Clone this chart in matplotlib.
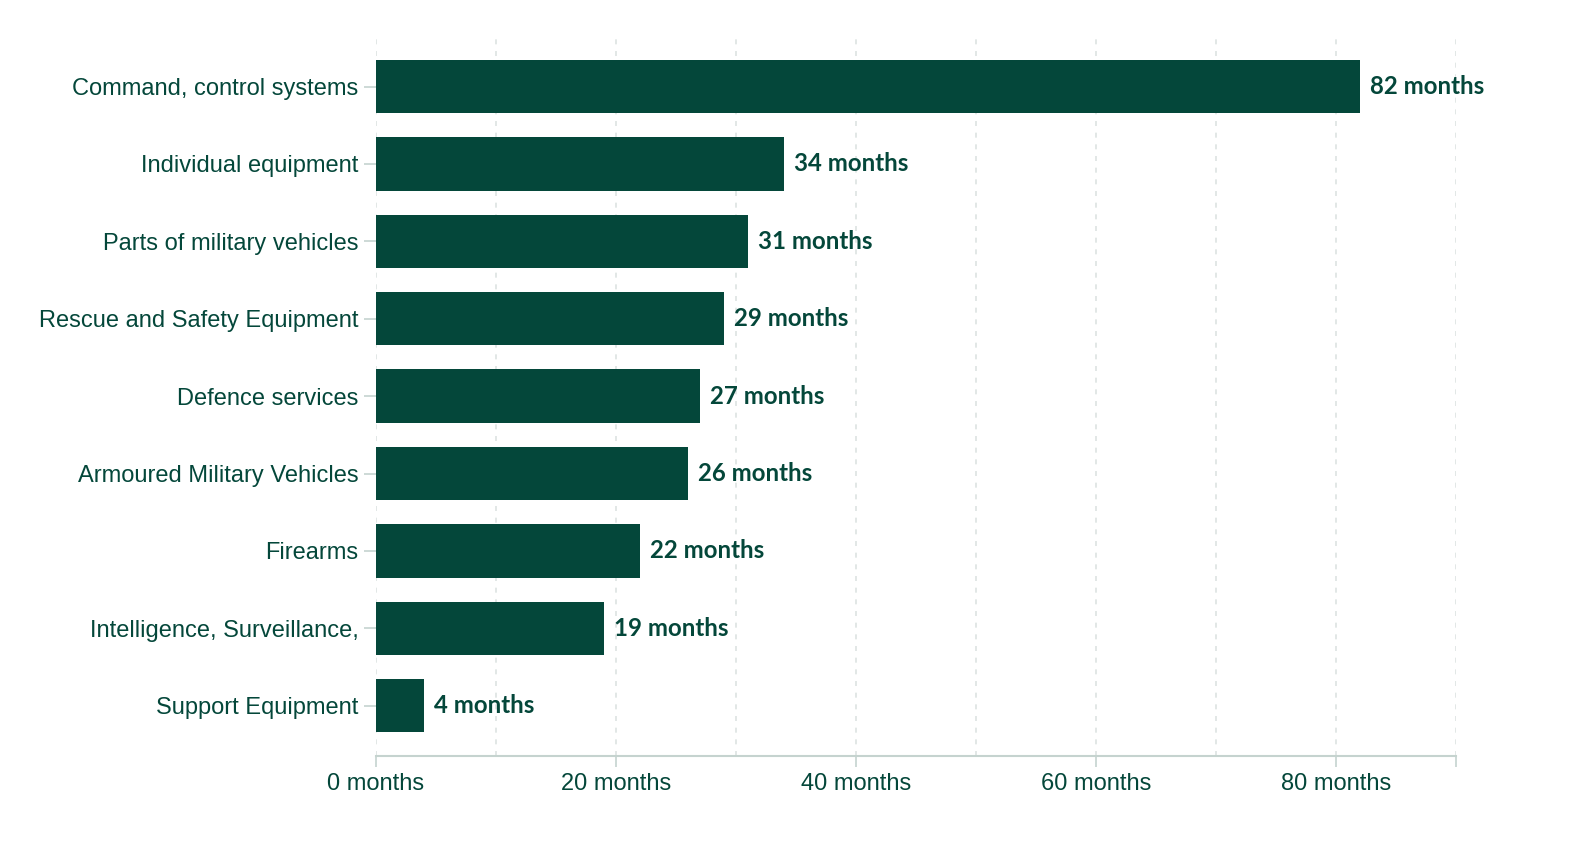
import matplotlib.pyplot as plt

# data
categories = ['Command, control systems', 'Individual equipment', 'Parts of military vehicles',
              'Rescue and Safety Equipment', 'Defence services', 'Armoured Military Vehicles',
              'Firearms', 'Intelligence, Surveillance,', 'Support Equipment']
months = [82, 34, 31, 29, 27, 26, 22, 19, 4]

green = '#04473a'
grid_col = '#dde3e1'
axis_col = '#c5d3cf'

fig = plt.figure(figsize=(15.82, 8.64), dpi=100)
ax = fig.add_axes([376 / 1582, 1 - 756 / 864, (1456 - 376) / 1582, (756 - 37) / 864])

y = list(range(len(categories)))
bars = ax.barh(y, months, height=0.69, color=green, zorder=3)

for b, v in zip(bars, months):
    ax.text(b.get_width() + 0.8, b.get_y() + b.get_height() / 2, f'{v} months',
            va='center', ha='left', fontsize=17.3, fontweight='bold',
            family='Lato', color=green, zorder=4)

ax.set_xlim(0, 90)
ax.set_ylim(8.65, -0.64)
ax.set_yticks(y)
ax.set_yticklabels(categories, family='Liberation Sans', fontsize=17, color=green)
ax.set_xticks([0, 20, 40, 60, 80, 90])
ax.set_xticklabels(['0 months', '20 months', '40 months', '60 months', '80 months', ''],
                   family='Liberation Sans', fontsize=17, color=green)
ax.set_xticks(range(0, 91, 10), minor=True)

ax.grid(axis='x', which='both', color=grid_col, linestyle=(0, (3, 4)), linewidth=1.2, zorder=0)
ax.tick_params(axis='y', length=8.5, width=1.2, color=axis_col, pad=4)
ax.tick_params(axis='x', which='major', length=8, width=1.2, color=axis_col, pad=4)
ax.tick_params(axis='x', which='minor', length=0)

for s in ['top', 'right', 'left']:
    ax.spines[s].set_visible(False)
ax.spines['bottom'].set_color(axis_col)
ax.spines['bottom'].set_linewidth(1.5)

fig.savefig('out.png', dpi=100)
